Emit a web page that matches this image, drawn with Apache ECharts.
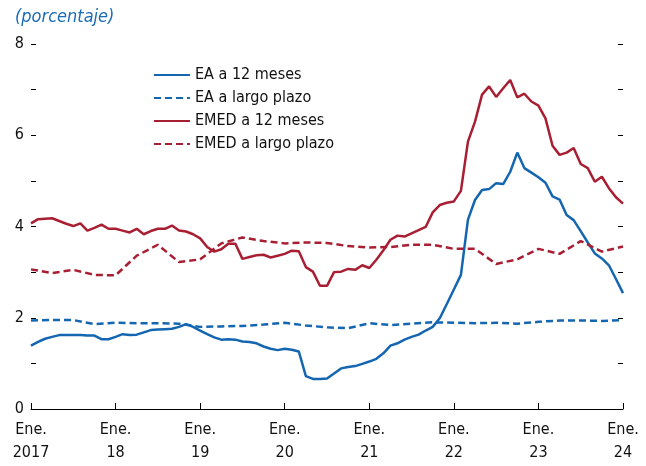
<!DOCTYPE html>
<html>
<head>
<meta charset="utf-8">
<script src="https://cdn.jsdelivr.net/npm/echarts@6/dist/echarts.min.js"></script>
<style>
	html, body { margin: 0; padding: 0; background: #fff; }
	#chart { width: 646px; height: 466px; }
</style>
</head>
<body>
<div id="chart"></div>
<script>
	// meses ene. 2017 - ene. 2024
	var months = [];
	for (var y = 2017; y <= 2024; y++) {
		for (var m = 1; m <= 12; m++) {
			if (y === 2024 && m > 1) break;
			months.push(y + '-' + (m < 10 ? '0' : '') + m);
		}
	}

	// EA a 12 meses (mensual)
	var eaDoce = [1.39, 1.47, 1.54, 1.58, 1.62, 1.62, 1.62, 1.62, 1.61, 1.61,
		1.53, 1.53, 1.58, 1.64, 1.62, 1.63, 1.68, 1.73, 1.74, 1.75,
		1.76, 1.80, 1.86, 1.80, 1.72, 1.64, 1.57, 1.52, 1.53, 1.52,
		1.48, 1.47, 1.44, 1.37, 1.32, 1.29, 1.32, 1.30, 1.26, 0.72,
		0.66, 0.66, 0.67, 0.78, 0.89, 0.92, 0.94, 0.99, 1.04, 1.10,
		1.22, 1.39, 1.44, 1.52, 1.58, 1.63, 1.72, 1.80, 1.99, 2.30,
		2.62, 2.94, 4.15, 4.58, 4.80, 4.82, 4.95, 4.93, 5.20, 5.62,
		5.28, 5.18, 5.08, 4.96, 4.66, 4.59, 4.25, 4.14, 3.90, 3.65,
		3.41, 3.30, 3.15, 2.85, 2.54];

	// EMED a 12 meses (mensual)
	var emedDoce = [4.07, 4.16, 4.17, 4.18, 4.12, 4.06, 4.01, 4.07, 3.91, 3.97,
		4.04, 3.95, 3.95, 3.91, 3.87, 3.95, 3.83, 3.90, 3.95, 3.95,
		4.02, 3.91, 3.89, 3.83, 3.74, 3.55, 3.45, 3.50, 3.62, 3.62,
		3.29, 3.33, 3.37, 3.38, 3.32, 3.36, 3.40, 3.47, 3.46, 3.11,
		3.01, 2.70, 2.70, 3.00, 3.01, 3.07, 3.05, 3.15, 3.09, 3.27,
		3.48, 3.71, 3.80, 3.78, 3.85, 3.92, 3.99, 4.31, 4.47, 4.52,
		4.55, 4.78, 5.86, 6.30, 6.89, 7.07, 6.84, 7.03, 7.21, 6.83,
		6.91, 6.74, 6.65, 6.37, 5.77, 5.57, 5.62, 5.72, 5.37, 5.28,
		4.98, 5.09, 4.84, 4.64, 4.50];

	// largo plazo (trimestral)
	var eaLargo = [1.94, 1.95, 1.95, 1.86, 1.89, 1.88, 1.88, 1.87, 1.80, 1.81,
		1.82, 1.85, 1.89, 1.83, 1.79, 1.77, 1.88, 1.84, 1.87, 1.90,
		1.89, 1.88, 1.89, 1.87, 1.91, 1.94, 1.94, 1.93, 1.95];
	var emedLargo = [3.06, 2.98, 3.05, 2.94, 2.93, 3.36, 3.60, 3.22, 3.28, 3.63,
		3.76, 3.68, 3.63, 3.65, 3.64, 3.57, 3.54, 3.55, 3.60, 3.60,
		3.51, 3.51, 3.18, 3.28, 3.51, 3.40, 3.68, 3.45, 3.56];

	var azul = '#1566b0';
	var rojo = '#a81f33';
	var fuente = "'Liberation Sans Narrow', 'DejaVu Sans Condensed', Arial, sans-serif";

	// trimestral -> eje mensual (huecos vacíos)
	function toMonthly(q) {
		var out = [];
		for (var i = 0; i < months.length; i++) {
			out.push(i % 3 === 0 ? q[i / 3] : null);
		}
		return out;
	}

	var chart = echarts.init(document.getElementById('chart'));

	var yBase = {
		type: 'value',
		min: 0,
		max: 8,
		interval: 1,
		axisLine: { show: false },
		axisTick: { show: true, inside: true, length: 5, lineStyle: { color: '#000' } },
		splitLine: { show: false }
	};

	chart.setOption({
		animation: false,
		title: {
			text: '(porcentaje)',
			left: 10,
			top: 3,
			textStyle: { fontFamily: fuente, fontStyle: 'italic', fontWeight: 'normal', fontSize: 18, color: '#1a6cb5' }
		},
		grid: { left: 31, right: 23, top: 44, bottom: 57 },
		legend: {
			orient: 'vertical',
			left: 148,
			top: 62,
			itemWidth: 36,
			itemHeight: 14,
			itemGap: 7,
			itemStyle: { opacity: 0 },
			textStyle: { fontFamily: fuente, fontSize: 16, color: '#111' },
			data: ['EA a 12 meses', 'EA a largo plazo', 'EMED a 12 meses', 'EMED a largo plazo']
		},
		xAxis: {
			type: 'category',
			data: months,
			boundaryGap: false,
			axisLine: { lineStyle: { color: '#000', width: 1 } },
			axisTick: { inside: true, length: 6, interval: 11, lineStyle: { color: '#000' } },
			axisLabel: {
				interval: 11,
				margin: 9,
				fontFamily: fuente,
				fontSize: 16,
				lineHeight: 23,
				color: '#111',
				formatter: function(v) {
					var yr = v.slice(0, 4);
					return 'Ene.\n' + (yr === '2017' ? yr : yr.slice(2));
				}
			}
		},
		yAxis: [
			Object.assign({}, yBase, {
				position: 'left',
				axisLabel: {
					margin: 7,
					fontFamily: fuente,
					fontSize: 16,
					color: '#111',
					formatter: function(v) { return v % 2 === 0 ? v : ''; }
				}
			}),
			Object.assign({}, yBase, { position: 'right', axisLabel: { show: false } })
		],
		series: [{
			name: 'EA a 12 meses',
			type: 'line',
			symbol: 'none',
			data: eaDoce,
			lineStyle: { color: azul, width: 2.5 },
			itemStyle: { color: azul }
		}, {
			name: 'EA a largo plazo',
			type: 'line',
			symbol: 'none',
			connectNulls: true,
			data: toMonthly(eaLargo),
			lineStyle: { color: azul, width: 2.5, type: [7, 4] },
			itemStyle: { color: azul }
		}, {
			name: 'EMED a 12 meses',
			type: 'line',
			symbol: 'none',
			data: emedDoce,
			lineStyle: { color: rojo, width: 2.5 },
			itemStyle: { color: rojo }
		}, {
			name: 'EMED a largo plazo',
			type: 'line',
			symbol: 'none',
			connectNulls: true,
			data: toMonthly(emedLargo),
			lineStyle: { color: rojo, width: 2.5, type: [7, 4] },
			itemStyle: { color: rojo }
		}]
	});
</script>
</body>
</html>
